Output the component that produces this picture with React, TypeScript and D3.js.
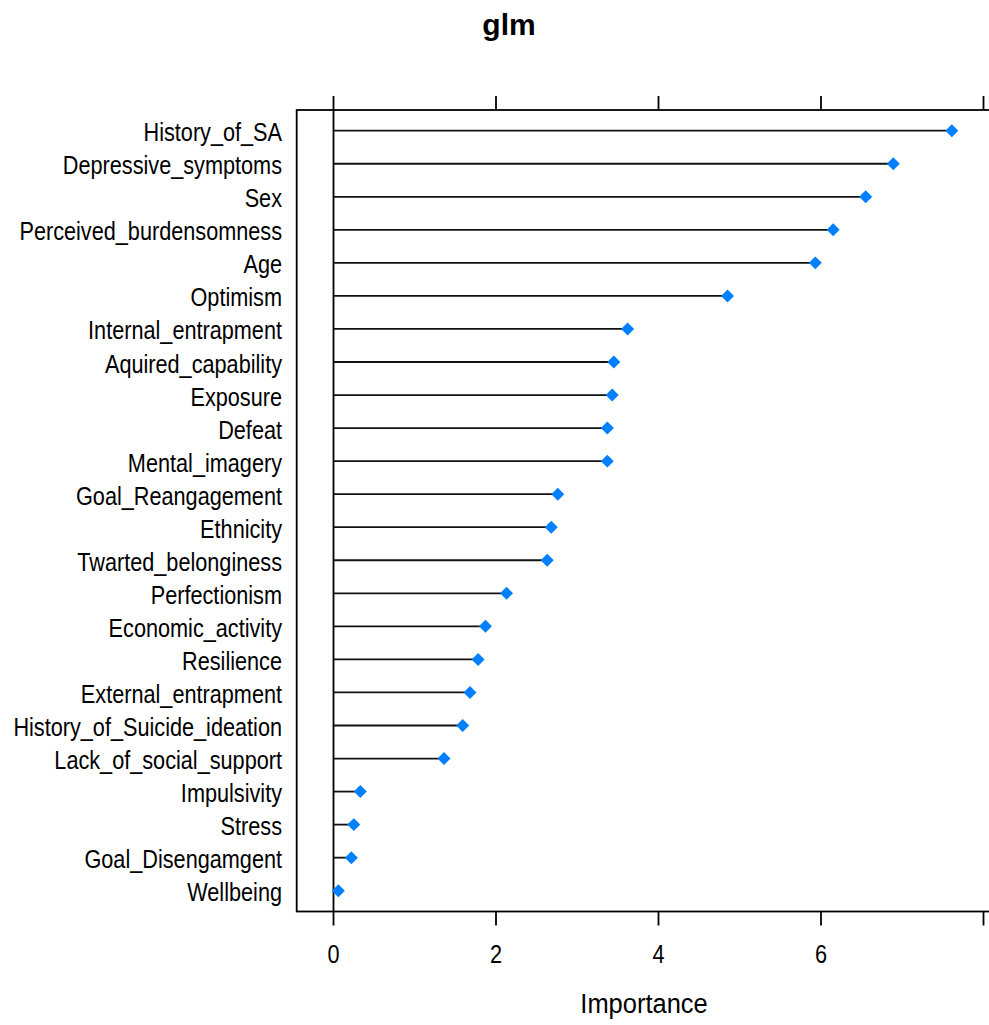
import React from "react";
import * as d3 from "d3";

// Variable importance from the fitted glm, top to bottom
const variables = [
  "History_of_SA",
  "Depressive_symptoms",
  "Sex",
  "Perceived_burdensomness",
  "Age",
  "Optimism",
  "Internal_entrapment",
  "Aquired_capability",
  "Exposure",
  "Defeat",
  "Mental_imagery",
  "Goal_Reangagement",
  "Ethnicity",
  "Twarted_belonginess",
  "Perfectionism",
  "Economic_activity",
  "Resilience",
  "External_entrapment",
  "History_of_Suicide_ideation",
  "Lack_of_social_support",
  "Impulsivity",
  "Stress",
  "Goal_Disengamgent",
  "Wellbeing",
];

const importance = [
  7.61, 6.89, 6.55, 6.15, 5.93, 4.85, 3.62, 3.45, 3.43, 3.37, 3.37, 2.76, 2.68,
  2.63, 2.13, 1.87, 1.78, 1.68, 1.59, 1.36, 0.33, 0.25, 0.22, 0.06,
];

const xTicks = [0, 2, 4, 6, 8];
const title = "glm";
const xLabel = "Importance";

const W = 989;
const H = 1025;
const FONT = "'Liberation Sans', Arial, sans-serif";

export default function App() {
  const x = d3.scaleLinear().domain([0, 8]).range([333.5, 983.5]);
  const y = d3.scalePoint<string>().domain(variables).range([130.7, 890.7]);

  // panel extends slightly past the right edge of the canvas
  const boxLeft = x(-0.453);
  const boxRight = x(8.12);
  const boxTop = 110;
  const boxBottom = 911.5;
  const tickLen = 14;

  const diamond = d3.symbol().type(d3.symbolSquare).size(84)()!;

  return (
    <svg
      width={W}
      height={H}
      style={{ position: "absolute", left: 0, top: 0, background: "#fff" }}
    >
      <rect x={0} y={0} width={W} height={H} fill="#fff" />
      <text
        x={509}
        y={35}
        textAnchor="middle"
        fontFamily={FONT}
        fontWeight="bold"
        fontSize={30}
        fill="#000"
      >
        {title}
      </text>

      {/* panel box */}
      <rect
        x={boxLeft}
        y={boxTop}
        width={boxRight - boxLeft}
        height={boxBottom - boxTop}
        fill="none"
        stroke="#000"
        strokeWidth={1.8}
      />

      {/* top and bottom ticks */}
      {xTicks.map((t) => (
        <g key={t}>
          <line
            x1={x(t)}
            x2={x(t)}
            y1={boxTop - tickLen}
            y2={boxTop}
            stroke="#000"
            strokeWidth={1.8}
          />
          <line
            x1={x(t)}
            x2={x(t)}
            y1={boxBottom}
            y2={boxBottom + tickLen}
            stroke="#000"
            strokeWidth={1.8}
          />
        </g>
      ))}
      {xTicks
        .filter((t) => t < 8)
        .map((t) => (
          <text
            key={"l" + t}
            transform={`translate(${x(t)},963.3) scale(0.85,1)`}
            textAnchor="middle"
            fontFamily={FONT}
            fontSize={25.5}
            fill="#000"
          >
            {t}
          </text>
        ))}

      {/* zero reference line */}
      <line
        x1={x(0)}
        x2={x(0)}
        y1={boxTop}
        y2={boxBottom}
        stroke="#000"
        strokeWidth={1.8}
      />

      {/* lollipops */}
      {variables.map((v, i) => {
        const yy = y(v)!;
        return (
          <g key={v}>
            <line
              x1={x(0)}
              x2={x(importance[i])}
              y1={yy}
              y2={yy}
              stroke="#111"
              strokeWidth={1.8}
            />
            <path
              d={diamond}
              transform={`translate(${x(importance[i])},${yy}) rotate(45)`}
              fill="#0080ff"
            />
            <text
              transform={`translate(282,${yy + 10.5}) scale(0.85,1)`}
              textAnchor="end"
              fontFamily={FONT}
              fontSize={25.5}
              fill="#000"
            >
              {v}
            </text>
          </g>
        );
      })}

      <text
        transform={`translate(644,1013.3) scale(0.91,1)`}
        textAnchor="middle"
        fontFamily={FONT}
        fontSize={28}
        fill="#000"
      >
        {xLabel}
      </text>
    </svg>
  );
}
